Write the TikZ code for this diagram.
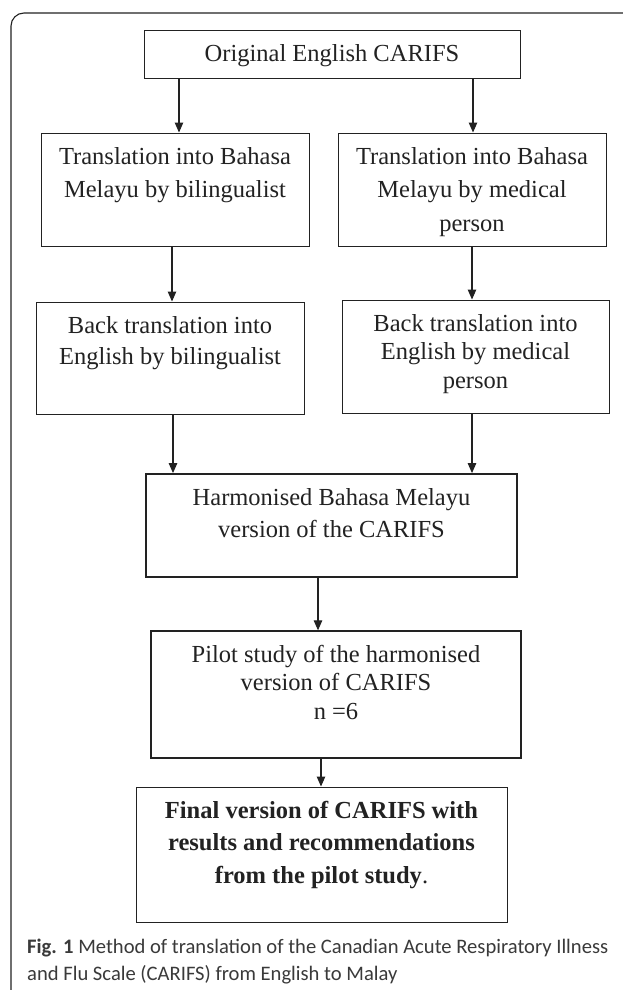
\documentclass[tikz,border=0pt]{standalone}
\usepackage{fontspec}
\setmainfont{Liberation Serif}
\newfontfamily\capfont{Carlito}
\usetikzlibrary{arrows.meta}
\definecolor{ink}{HTML}{222222}
\definecolor{capgray}{HTML}{3A3A3A}
\newcommand{\stage}[4]{\parbox[c][#2][t]{#1}{\centering
  \fontsize{24.5}{#3}\selectfont\vspace*{14pt}#4}}

\begin{document}
\begin{tikzpicture}[x=1pt,y=-1pt]
      \tikzstyle{box}=[draw=ink,line width=1pt,rectangle,inner sep=0pt,text=ink]
      \tikzstyle{arr}=[draw=ink,line width=1.1pt,-{Triangle[length=10pt,width=8.5pt]}]
      \useasboundingbox (0,0) rectangle (622,990);
      \fill[white] (0,0) rectangle (622,990);
      \draw[ink,line width=1.1pt,rounded corners=13pt] (11,1000) -- (11,13) -- (640,13);
      \node (orig) [box] at (332,54.5)
	  {\stage{376pt}{47pt}{33pt}{Original English CARIFS}};
      \node (transBil) [box] at (175,189.5)
	  {\stage{268pt}{113pt}{33.5pt}{Translation into Bahasa\\Melayu by bilingualist}};
      \node (transMed) [box] at (472,189.5)
	  {\stage{268pt}{113pt}{33.5pt}{Translation into Bahasa\\Melayu by medical\\person}};
      \node (backBil) [box] at (170,358)
	  {\stage{268pt}{112pt}{31pt}{Back translation into\\English by bilingualist}};
      \node (backMed) [box] at (475.5,356.5)
	  {\stage{267pt}{113pt}{28.5pt}{Back translation into\\English by medical\\person}};
      \node (harm) [box,line width=1.8pt] at (331.5,525.5)
	  {\stage{371pt}{103pt}{32pt}{Harmonised Bahasa Melayu\\version of the CARIFS}};
      \node (pilot) [box,line width=1.3pt] at (336,694.5)
	  {\stage{370pt}{127pt}{28.5pt}{Pilot study of the harmonised\\version of CARIFS\\n =6}};
      \node (final) [box] at (321.5,854.5)
	  {\stage{371pt}{135pt}{32.5pt}{\textbf{Final version of CARIFS with}\\
	   \textbf{results and recommendations}\\\textbf{from the pilot study}.}};
      \node (cap) [anchor=base west,align=left,inner sep=0pt,text=capgray,
		   font=\capfont\fontsize{20.6}{27}\selectfont] at (27,980)
	  {\textbf{Fig. 1} Method of translation of the Canadian Acute Respiratory Illness\\
	   and Flu Scale (CARIFS) from English to Malay};
      \draw[arr] (orig.south -| 179,0) -- (transBil.north -| 179,0);
      \draw[arr] (orig.south -| 473,0) -- (transMed.north -| 473,0);
      \draw[arr] (transBil.south -| 172,0) -- (backBil.north -| 172,0);
      \draw[arr] (transMed.south -| 472,0) -- (backMed.north -| 472,0);
      \draw[arr] (backBil.south -| 173,0) -- (harm.north -| 173,0);
      \draw[arr] (backMed.south -| 472,0) -- (harm.north -| 472,0);
      \draw[arr] (harm.south -| 318,0) -- (pilot.north -| 318,0);
      \draw[arr] (pilot.south -| 321,0) -- (final.north -| 321,0);
  \end{tikzpicture}
\end{document}
